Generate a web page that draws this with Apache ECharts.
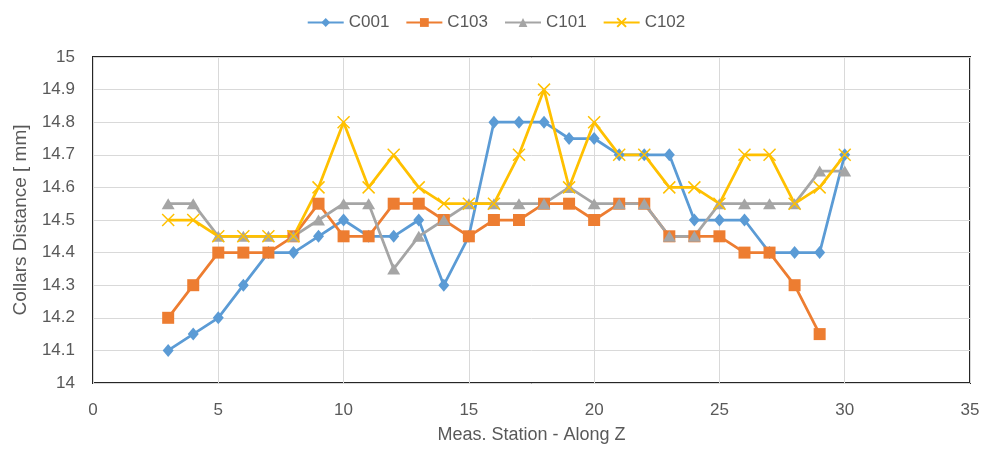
<!DOCTYPE html>
<html>
<head>
<meta charset="utf-8">
<script src="https://cdn.jsdelivr.net/npm/echarts@6/dist/echarts.min.js"></script>
<style>
  html, body { margin: 0; padding: 0; background: #fff; }
  #chart { width: 992px; height: 449px; }
</style>
</head>
<body>
<div id="chart"></div>
<script>
// Measurement stations along Z
const stations = [3,4,5,6,7,8,9,10,11,12,13,14,15,16,17,18,19,20,21,22,23,24,25,26,27,28,29,30];

// Collar distances [mm] per collar
const c001 = [14.1,14.15,14.2,14.3,14.4,14.4,14.45,14.5,14.45,14.45,14.5,14.3,14.45,14.8,14.8,14.8,14.75,14.75,14.7,14.7,14.7,14.5,14.5,14.5,14.4,14.4,14.4,14.7];
const c103 = [14.2,14.3,14.4,14.4,14.4,14.45,14.55,14.45,14.45,14.55,14.55,14.5,14.45,14.5,14.5,14.55,14.55,14.5,14.55,14.55,14.45,14.45,14.45,14.4,14.4,14.3,14.15];
const c101 = [14.55,14.55,14.45,14.45,14.45,14.45,14.5,14.55,14.55,14.35,14.45,14.5,14.55,14.55,14.55,14.55,14.6,14.55,14.55,14.55,14.45,14.45,14.55,14.55,14.55,14.55,14.65,14.65];
const c102 = [14.5,14.5,14.45,14.45,14.45,14.45,14.6,14.8,14.6,14.7,14.6,14.55,14.55,14.55,14.7,14.9,14.6,14.8,14.7,14.7,14.6,14.6,14.55,14.7,14.7,14.55,14.6,14.7];

const seriesNames = ['C001', 'C103', 'C101', 'C102'];
const xTitle = 'Meas. Station - Along Z';
const yTitle = 'Collars Distance [ mm]';

const FONT = '"Liberation Sans", sans-serif';
const TXT = '#595959';

function pairs(vals) {
  return vals.map((v, i) => [stations[i], v]);
}

const chart = echarts.init(document.getElementById('chart'));
chart.setOption({
  animation: false,
  textStyle: { fontFamily: FONT },
  legend: {
    top: 9,
    left: 'center',
    itemWidth: 36,
    itemHeight: 11,
    itemGap: 16,
    textStyle: { color: TXT, fontSize: 17, fontFamily: FONT },
    data: seriesNames
  },
  grid: {
    left: 93, right: 22, top: 57, bottom: 66,
    show: true,
    borderColor: '#262626',
    borderWidth: 2
  },
  xAxis: {
    type: 'value',
    min: 0, max: 35, interval: 5,
    name: xTitle,
    nameLocation: 'middle',
    nameGap: 43,
    nameTextStyle: { color: TXT, fontSize: 18, fontFamily: FONT },
    axisLine: { show: false },
    axisTick: { show: false },
    axisLabel: { color: TXT, fontSize: 17, fontFamily: FONT, margin: 19 },
    splitLine: { show: true, lineStyle: { color: '#d9d9d9', width: 1 } }
  },
  yAxis: {
    type: 'value',
    min: 14, max: 15, interval: 0.1,
    name: yTitle,
    nameLocation: 'middle',
    nameGap: 63,
    nameTextStyle: { color: TXT, fontSize: 19, fontFamily: FONT },
    axisLine: { show: false },
    axisTick: { show: false },
    axisLabel: {
      color: TXT, fontSize: 17, fontFamily: FONT, margin: 18,
      formatter: v => (Math.round(v * 10) / 10).toString()
    },
    splitLine: { show: true, lineStyle: { color: '#d9d9d9', width: 1 } }
  },
  series: [
    {
      name: 'C001', type: 'line', data: pairs(c001),
      symbol: 'diamond', symbolSize: [11, 13],
      lineStyle: { color: '#5B9BD5', width: 2.75 },
      itemStyle: { color: '#5B9BD5' }
    },
    {
      name: 'C103', type: 'line', data: pairs(c103),
      symbol: 'rect', symbolSize: 12,
      lineStyle: { color: '#ED7D31', width: 2.75 },
      itemStyle: { color: '#ED7D31' }
    },
    {
      name: 'C101', type: 'line', data: pairs(c101),
      symbol: 'triangle', symbolSize: [13, 11],
      lineStyle: { color: '#A5A5A5', width: 2.75 },
      itemStyle: { color: '#A5A5A5' }
    },
    {
      name: 'C102', type: 'line', data: pairs(c102),
      symbol: 'path://M0,0L10,10M10,0L0,10', symbolSize: 12,
      lineStyle: { color: '#FFC000', width: 2.75 },
      itemStyle: { color: '#FFC000', borderColor: '#FFC000', borderWidth: 1.5 }
    }
  ]
});
</script>
</body>
</html>
